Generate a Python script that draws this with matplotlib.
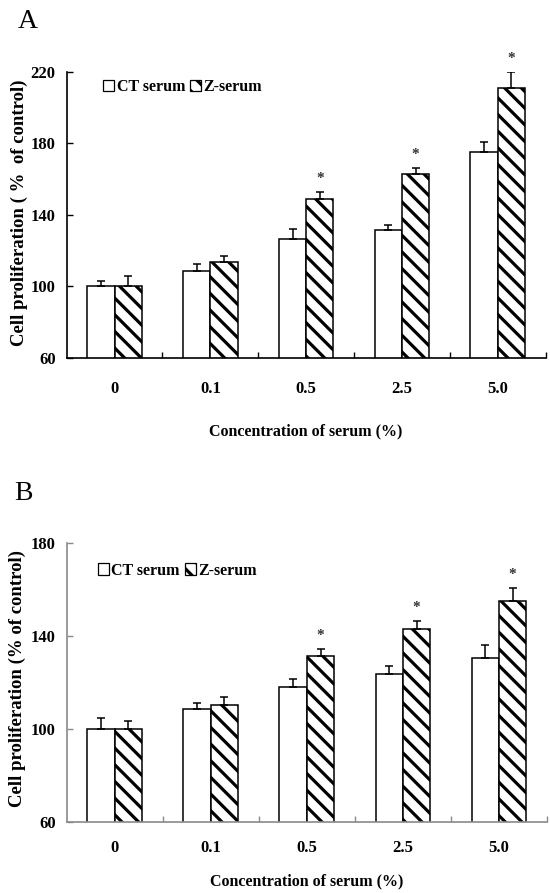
import matplotlib
matplotlib.use("Agg")
import matplotlib.pyplot as plt
from matplotlib.patches import Patch
import numpy as np

plt.rcParams['font.family'] = ['Liberation Serif', 'DejaVu Serif']
plt.rcParams['hatch.linewidth'] = 2.3

categories = ['0', '0.1', '0.5', '2.5', '5.0']

# Panel A
a_ct = [100, 108.7, 126.4, 131.4, 174.9]
a_ct_err = [3.0, 3.5, 5.8, 2.8, 5.8]
a_z = [100, 113.7, 148.6, 162.6, 211.0]
a_z_err = [5.9, 3.2, 4.1, 3.5, 9.0]
a_star = [False, False, True, True, True]

# Panel B
b_ct = [100, 108.5, 117.9, 123.6, 130.4]
b_ct_err = [4.7, 2.6, 3.7, 3.6, 5.8]
b_z = [100, 110.3, 131.5, 143.0, 155.1]
b_z_err = [3.5, 3.3, 2.9, 3.5, 5.3]
b_star = [False, False, True, True, True]

W, H = 550, 893
fig = plt.figure(figsize=(W / 100, H / 100), dpi=100)


def make_panel(rect, ct, ct_err, z, z_err, star, ylim, yticks, ylabel,
               spine_color, legend_pos, xlabel_y, ylabel_pos, tickpad, star_off):
    ax = fig.add_axes(rect)
    x = np.arange(len(categories))
    w = 0.285
    ax.bar(x - w / 2, ct, width=w, color='white', edgecolor='black',
           linewidth=1.1, zorder=2)
    ax.bar(x + w / 2, z, width=w, color='white', edgecolor='black',
           hatch='\\\\', linewidth=1.1, zorder=2)
    ax.errorbar(x - w / 2, ct, yerr=[np.zeros(len(ct)), ct_err], fmt='none',
                ecolor='black', elinewidth=1.1, capsize=2.6, capthick=1.1, zorder=3)
    ax.errorbar(x + w / 2, z, yerr=[np.zeros(len(z)), z_err], fmt='none',
                ecolor='black', elinewidth=1.1, capsize=2.6, capthick=1.1, zorder=3)
    for xi, zi, ei, s in zip(x, z, z_err, star):
        if s:
            ax.annotate('*', (xi + w / 2, zi + ei), xytext=(0, star_off),
                        textcoords='offset points', ha='center', va='bottom',
                        fontsize=11, fontweight='bold', color='#333333')
    ax.set_xlim(-0.5, len(categories) - 0.5)
    ax.set_ylim(*ylim)
    ax.set_yticks(yticks)
    ax.set_yticklabels([str(t) for t in yticks], fontsize=12, fontweight='bold')
    ax.set_xticks(x)
    ax.set_xticklabels(categories, fontsize=12, fontweight='bold')
    ax.set_xticks(np.arange(len(categories)) + 0.5, minor=True)
    ax.tick_params(axis='x', which='major', length=0, pad=tickpad)
    ax.tick_params(axis='x', which='minor', direction='in', length=4,
                   width=1, color=spine_color)
    ax.tick_params(axis='y', direction='in', length=4, width=1, pad=8,
                   color=spine_color)
    for s in ['top', 'right']:
        ax.spines[s].set_visible(False)
    for s in ['left', 'bottom']:
        ax.spines[s].set_color(spine_color)
        ax.spines[s].set_linewidth(1.2)
    ax.set_xlabel('Concentration of serum (%)', fontsize=11.5, fontweight='bold')
    ax.xaxis.set_label_coords(0.5, xlabel_y)
    ax.set_ylabel(ylabel, fontsize=13.5, fontweight='bold')
    ax.yaxis.set_label_coords(*ylabel_pos)
    ax.yaxis.label.set_va('center')
    handles = [Patch(facecolor='white', edgecolor='black', linewidth=0.9),
               Patch(facecolor='white', edgecolor='black', hatch='\\\\', linewidth=0.9)]
    ax.legend(handles, ['CT serum', 'Z-serum'], loc='center left',
              bbox_to_anchor=legend_pos, ncol=2, frameon=False,
              handlelength=0.7, handleheight=0.7, handletextpad=0.15,
              columnspacing=0.3, borderpad=0, borderaxespad=0,
              prop={'size': 11.5, 'weight': 'bold'})
    return ax


rectA = [66.7 / W, 1 - 357.7 / H, (545.6 - 66.7) / W, (357.7 - 71.7) / H]
make_panel(rectA, a_ct, a_ct_err, a_z, a_z_err, a_star, (60, 220),
           [60, 100, 140, 180, 220], 'Cell proliferation ( %  of control)',
           'black', (0.076, 0.945), -0.228, (-0.0996, 0.506), 17, 5)

rectB = [66.7 / W, 1 - 822.3 / H, (547 - 66.7) / W, (822.3 - 542.7) / H]
make_panel(rectB, b_ct, b_ct_err, b_z, b_z_err, b_star, (60, 180),
           [60, 100, 140, 180], 'Cell proliferation (% of control)',
           '#8a8a8a', (0.065, 0.90), -0.181, (-0.1027, 0.516), 13, 5)

fig.text(28 / W, 1 - 22 / H, 'A', fontsize=20, ha='center', va='center')
fig.text(23.5 / W, 1 - 494 / H, 'B', fontsize=20, ha='center', va='center')

fig.savefig('out.png', dpi=100)
